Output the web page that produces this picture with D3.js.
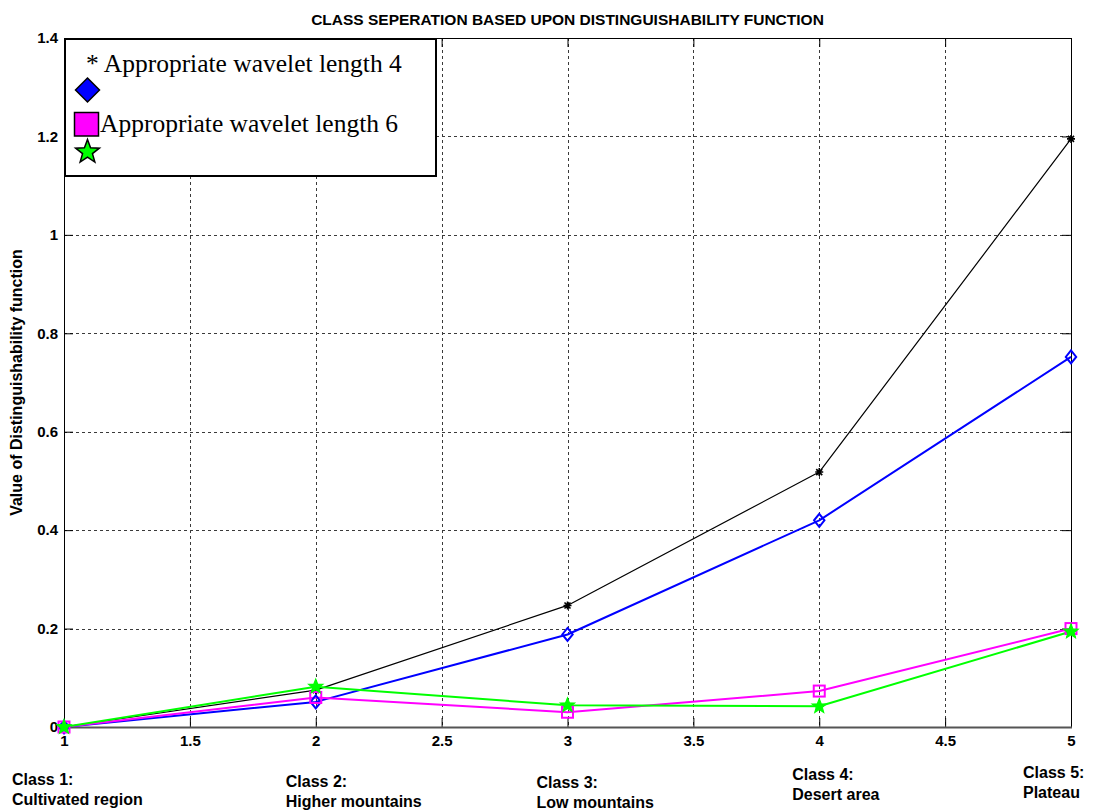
<!DOCTYPE html>
<html>
<head>
<meta charset="utf-8">
<script src="https://cdn.jsdelivr.net/npm/d3@7"></script>
<style>
  html, body { margin: 0; padding: 0; background: #fff; }
  svg { display: block; }
</style>
</head>
<body>
<svg id="chart" width="1095" height="810"></svg>
<script>
// ---------------- DATA ----------------
const classes = [1, 2, 3, 4, 5];
const seriesBlack   = [0, 0.075, 0.247, 0.518, 1.195];
const seriesBlue    = [0, 0.051, 0.188, 0.420, 0.752];
const seriesMagenta = [0, 0.060, 0.030, 0.073, 0.200];
const seriesGreen   = [0, 0.082, 0.044, 0.042, 0.194];
const xTicks = [1, 1.5, 2, 2.5, 3, 3.5, 4, 4.5, 5];
const yTicks = [0, 0.2, 0.4, 0.6, 0.8, 1, 1.2, 1.4];
const classTitles = ["Class 1:", "Class 2:", "Class 3:", "Class 4:", "Class 5:"];
const classNames  = ["Cultivated region", "Higher mountains", "Low mountains", "Desert area", "Plateau"];
const legendLabels = ["* Appropriate wavelet length 4", "Appropriate wavelet length 6"];
const titleText = "CLASS SEPERATION BASED UPON DISTINGUISHABILITY FUNCTION";
const yLabelText = "Value of Distinguishability function";

// ---------------- LAYOUT ----------------
const W = 1095, H = 810;
const plot = { left: 64, right: 1071, top: 38, bottom: 727 };
const svg = d3.select("#chart");
const x = d3.scaleLinear().domain([1, 5]).range([plot.left, plot.right]);
const y = d3.scaleLinear().domain([0, 1.4]).range([plot.bottom, plot.top]);
const sans = "'Liberation Sans', Arial, Helvetica, sans-serif";
const serif = "'Liberation Serif', 'Times New Roman', Times, serif";
const fmt = d => String(+d.toFixed(1));

// grid
const grid = svg.append("g").attr("stroke", "#3a3a3a").attr("stroke-width", 1)
  .attr("stroke-dasharray", "3,3").attr("fill", "none");
grid.selectAll("line.gx").data(xTicks.filter(d => d > 1 && d < 5)).join("line")
  .attr("x1", d => Math.round(x(d)) + 0.5).attr("x2", d => Math.round(x(d)) + 0.5)
  .attr("y1", plot.top).attr("y2", plot.bottom);
grid.selectAll("line.gy").data(yTicks.filter(d => d > 0 && d < 1.4)).join("line")
  .attr("y1", d => Math.round(y(d)) + 0.5).attr("y2", d => Math.round(y(d)) + 0.5)
  .attr("x1", plot.left).attr("x2", plot.right);

// axes (ticks inside)
function styleAxis(g, showText) {
  g.select(".domain").remove();
  g.selectAll(".tick line").attr("stroke", "#000").attr("stroke-width", 1);
  g.selectAll(".tick text").attr("fill", "#000").attr("font-family", sans)
    .attr("font-weight", "bold").attr("font-size", "15px");
  if (!showText) g.selectAll(".tick text").remove();
}
svg.append("g").attr("transform", `translate(0,${plot.bottom})`)
  .call(d3.axisBottom(x).tickValues(xTicks).tickSize(-9).tickPadding(8).tickFormat(fmt))
  .call(g => styleAxis(g, true));
svg.append("g").attr("transform", `translate(0,${plot.top})`)
  .call(d3.axisTop(x).tickValues(xTicks).tickSize(-9).tickFormat(""))
  .call(g => styleAxis(g, false));
svg.append("g").attr("transform", `translate(${plot.left},0)`)
  .call(d3.axisLeft(y).tickValues(yTicks).tickSize(-9).tickPadding(6).tickFormat(fmt))
  .call(g => styleAxis(g, true));
svg.append("g").attr("transform", `translate(${plot.right},0)`)
  .call(d3.axisRight(y).tickValues(yTicks).tickSize(-9).tickFormat(""))
  .call(g => styleAxis(g, false));

// box
svg.append("rect").attr("x", plot.left + 0.5).attr("y", plot.top + 0.5)
  .attr("width", plot.right - plot.left).attr("height", plot.bottom - plot.top)
  .attr("fill", "none").attr("stroke", "#000").attr("stroke-width", 1);
svg.append("line").attr("x1", plot.left).attr("x2", plot.right + 1)
  .attr("y1", plot.bottom + 0.5).attr("y2", plot.bottom + 0.5)
  .attr("stroke", "#555").attr("stroke-width", 2);

// series
const line = d3.line().x((d, i) => x(classes[i])).y(d => y(d));
const series = [
  { values: seriesBlack, color: "#000000", width: 1.2, marker: "asterisk" },
  { values: seriesBlue, color: "#0000ff", width: 2, marker: "diamond" },
  { values: seriesMagenta, color: "#ff00ff", width: 2, marker: "square" },
  { values: seriesGreen, color: "#00ff00", width: 2, marker: "star" }
];
function starPath(cx, cy, rOut, rIn) {
  const pts = [];
  for (let k = 0; k < 10; k++) {
    const a = -Math.PI / 2 + k * Math.PI / 5;
    const r = k % 2 === 0 ? rOut : rIn;
    pts.push([cx + r * Math.cos(a), cy + r * Math.sin(a)]);
  }
  return "M" + pts.map(p => p.join(",")).join("L") + "Z";
}
series.forEach(s => {
  svg.append("path").datum(s.values).attr("d", line)
    .attr("fill", "none").attr("stroke", s.color).attr("stroke-width", s.width)
    .attr("stroke-linejoin", "round");
});
series.forEach(s => {
  const g = svg.append("g");
  s.values.forEach((v, i) => {
    const cx = x(classes[i]), cy = y(v);
    if (s.marker === "asterisk") {
      const r = 4;
      g.append("path").attr("d",
        `M${cx - r},${cy}L${cx + r},${cy}M${cx},${cy - r}L${cx},${cy + r}` +
        `M${cx - r * 0.75},${cy - r * 0.75}L${cx + r * 0.75},${cy + r * 0.75}` +
        `M${cx - r * 0.75},${cy + r * 0.75}L${cx + r * 0.75},${cy - r * 0.75}`)
        .attr("stroke", s.color).attr("stroke-width", 1.6);
    } else if (s.marker === "diamond") {
      g.append("path").attr("d",
        `M${cx},${cy - 6.5}L${cx + 5.2},${cy}L${cx},${cy + 6.5}L${cx - 5.2},${cy}Z`)
        .attr("fill", "none").attr("stroke", s.color).attr("stroke-width", 2);
    } else if (s.marker === "square") {
      g.append("rect").attr("x", cx - 5.5).attr("y", cy - 5.5).attr("width", 11).attr("height", 11)
        .attr("fill", "none").attr("stroke", s.color).attr("stroke-width", 2);
    } else {
      g.append("path").attr("d", starPath(cx, cy, 7.5, 3.2))
        .attr("fill", s.color).attr("stroke", s.color).attr("stroke-width", 1.2);
    }
  });
});

// title
svg.append("text").attr("x", (plot.left + plot.right) / 2).attr("y", 25)
  .attr("text-anchor", "middle").attr("font-family", sans).attr("font-weight", "bold")
  .attr("font-size", "15.5px").attr("fill", "#000").text(titleText);

// y label
svg.append("text").attr("transform", `translate(22,${(plot.top + plot.bottom) / 2}) rotate(-90)`)
  .attr("text-anchor", "middle").attr("font-family", sans).attr("font-weight", "bold")
  .attr("font-size", "16px").attr("fill", "#000").text(yLabelText);

// class labels under axis
const classLabelDx = [-52, -30, -31, -27, -48];
const classLabelBase = [785, 787, 788, 780, 778];
classes.forEach((c, i) => {
  const t = svg.append("text").attr("font-family", sans).attr("font-weight", "bold")
    .attr("font-size", "16px").attr("fill", "#000");
  const lx = x(c) + classLabelDx[i];
  t.append("tspan").attr("x", lx).attr("y", classLabelBase[i]).text(classTitles[i]);
  t.append("tspan").attr("x", lx).attr("y", classLabelBase[i] + 20).text(classNames[i]);
});

// legend
const lg = svg.append("g");
lg.append("rect").attr("x", 65).attr("y", 39).attr("width", 371).attr("height", 137)
  .attr("fill", "#fff").attr("stroke", "#000").attr("stroke-width", 2);
lg.append("text").attr("x", 86).attr("y", 72).attr("font-family", serif)
  .attr("font-size", "25.5px").attr("fill", "#000").text(legendLabels[0]);
lg.append("text").attr("x", 100).attr("y", 132).attr("font-family", serif)
  .attr("font-size", "25.5px").attr("fill", "#000").text(legendLabels[1]);
lg.append("path").attr("d", "M87.5,78L99.5,90L87.5,102L75.5,90Z")
  .attr("fill", "#0000ff").attr("stroke", "#000").attr("stroke-width", 1.5);
lg.append("rect").attr("x", 74.5).attr("y", 112.5).attr("width", 24).attr("height", 23.5)
  .attr("fill", "#ff00ff").attr("stroke", "#000").attr("stroke-width", 1.5);
lg.append("path").attr("d", starPath(87.5, 152, 12.5, 5.2))
  .attr("fill", "#00ff00").attr("stroke", "#000").attr("stroke-width", 1.5);
</script>
</body>
</html>
